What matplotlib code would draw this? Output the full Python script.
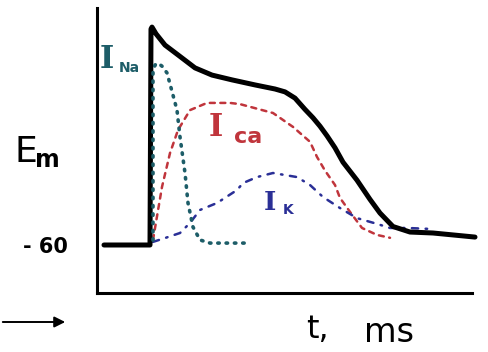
import matplotlib
matplotlib.use("Agg")
import matplotlib.pyplot as plt
from matplotlib.patches import FancyArrowPatch

# Membrane potential (ms, mV)
t_em = [-46, 0, 1, 2, 6, 15, 28, 45, 62, 82, 105, 125, 135, 145, 155, 163, 170, 177, 185, 193, 207, 220, 230, 243, 260, 283, 325]
em = [-60, -60, 30, 30.8, 28, 23.3, 19.2, 13.8, 10.8, 8.8, 6.7, 5, 3.8, 1.2, -3.5, -7, -10.5, -14.5, -19.5, -25.5, -33, -41, -46.7, -52.3, -54.6, -55, -56.7]

# Sodium current, drawn on the same scale
t_na = [3, 3, 3, 5, 8, 12, 17, 22, 27, 30, 35, 38, 43, 50, 60, 95]
i_na = [-58, -20, 12, 15, 15.8, 14.5, 11.7, 4, -3.8, -15, -30, -42.5, -52.5, -57.9, -59.2, -59.2]

# Calcium current
t_ca = [3, 12, 20, 28, 40, 57, 80, 90, 123, 143, 160, 167, 175, 185, 190, 200, 212, 227, 240]
i_ca = [-57.9, -35.8, -21.7, -12.1, -3.8, -0.8, -0.8, -1.3, -5, -10.8, -17, -23.3, -29, -35, -40.4, -46.2, -52.9, -55.8, -57]

# Potassium current
t_k = [3, 15, 30, 40, 50, 67, 87, 93, 107, 123, 147, 160, 173, 190, 207, 227, 240, 257, 280]
i_k = [-58.7, -57.1, -55, -50.8, -45.4, -42.5, -37.1, -34.2, -31.7, -30, -31.7, -35, -40, -44.6, -48.8, -51.2, -52.9, -52.9, -53.3]

y_ticks = [-60]
y_tick_labels = ["- 60"]

W, H = 488, 352
fig = plt.figure(figsize=(W / 100, H / 100), dpi=100)


def fx(x):
    return x / W


def fy(y):
    return 1 - y / H


ax = fig.add_axes([fx(97), fy(293), (472 - 97) / W, (293 - 8) / H])
ax.set_xlim(-53, 322)
ax.set_ylim(-60 - 48 / 2.4, -60 + 237 / 2.4)

teal = "#1d5d68"
red = "#c0353c"
blue = "#2a2f96"

ax.plot(t_ca, i_ca, color=red, lw=1.8, linestyle=(0, (2.0, 2.2)), dash_capstyle="round")
ax.plot(t_k, i_k, color=blue, lw=1.8, linestyle=(0, (2.5, 3.0, 0.6, 3.0)), dash_capstyle="round")
ax.plot(t_em, em, color="black", lw=3.6, solid_joinstyle="round", solid_capstyle="round", clip_on=False)
ax.plot(t_na, i_na, color=teal, lw=2.6, linestyle=(0, (0.4, 1.9)), dash_capstyle="round")

for side in ("top", "right"):
    ax.spines[side].set_visible(False)
for side in ("left", "bottom"):
    ax.spines[side].set_linewidth(2.2)
    ax.spines[side].set_color("black")

ax.set_xticks([])
ax.set_yticks(y_ticks)
ax.set_yticklabels(y_tick_labels, fontsize=15, fontweight="bold")
ax.tick_params(axis="y", length=0, pad=21)

# Axis labels
fig.text(fx(14), fy(152), "E", fontsize=26, ha="left", va="center")
fig.text(fx(35), fy(160), "m", fontsize=17, ha="left", va="center", fontweight="bold")
fig.text(fx(306), fy(329), "t,", fontsize=23, ha="left", va="center")
fig.text(fx(364), fy(332), "ms", fontsize=24, ha="left", va="center")

# Current labels
serif = "DejaVu Serif"
fig.text(fx(100), fy(59), "I", fontsize=22, ha="left", va="center", color=teal,
         fontweight="bold", family=serif)
fig.text(fx(119), fy(68), "Na", fontsize=10, ha="left", va="center", color=teal, fontweight="bold")
fig.text(fx(209), fy(127), "I", fontsize=22, ha="left", va="center", color=red,
         fontweight="bold", family=serif)
fig.text(fx(234), fy(137), "ca", fontsize=16, ha="left", va="center", color=red, fontweight="bold")
fig.text(fx(264), fy(203), "I", fontsize=19, ha="left", va="center", color=blue,
         fontweight="bold", family=serif)
fig.text(fx(283), fy(210), "K", fontsize=10, ha="left", va="center", color=blue, fontweight="bold")

# Time-direction arrow
fig.add_artist(FancyArrowPatch(
    (fx(0), fy(322)), (fx(68), fy(322)), transform=fig.transFigure,
    arrowstyle="-|>", mutation_scale=16, lw=1.4, color="black"))

fig.savefig("out.png", dpi=100, facecolor="white")
